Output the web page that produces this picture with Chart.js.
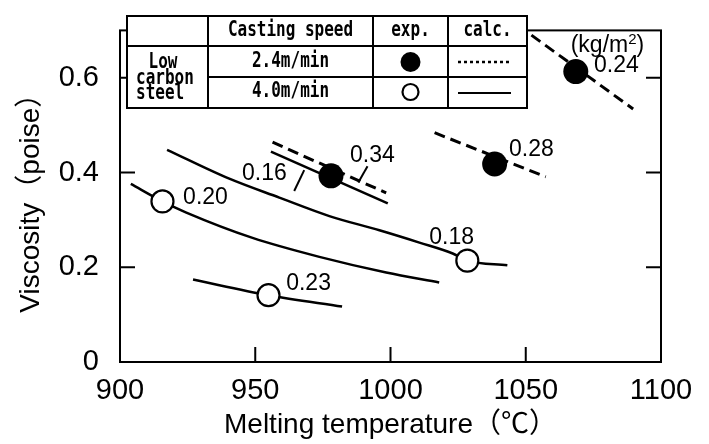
<!DOCTYPE html>
<html><head><meta charset="utf-8">
<script src="https://cdn.jsdelivr.net/npm/chart.js@4"></script>
<style>html,body{margin:0;padding:0;background:#fff}#wrap{width:709px;height:444px}</style>
</head><body><div id="wrap"><canvas id="c" width="709" height="444"></canvas></div>
<script>
// ---- tick labels ----
const xTicks = [900, 950, 1000, 1050, 1100];
const yTicks = [0, 0.2, 0.4, 0.6];
const xInnerTicks = [950, 1000, 1050];
const yInnerTicks = [0.2, 0.4, 0.6];

// ---- experimental points ----
const exp24T = [978, 1038.5, 1068.5];      // 2.4 m/min (filled)
const exp24V = [0.393, 0.418, 0.613];
const exp40T = [915.7, 1028.4, 954.9];     // 4.0 m/min (open)
const exp40V = [0.339, 0.214, 0.141];

// ---- calculated curves, 4.0 m/min (solid) ----
const c020T = [904, 915.7, 924.3, 949, 973.7, 998.4, 1018];
const c020V = [0.376, 0.339, 0.316, 0.262, 0.222, 0.189, 0.168];
const c018T = [917.4, 940.4, 958.9, 977.4, 995.9, 1010.7, 1023, 1028.4, 1043.2];
const c018V = [0.448, 0.387, 0.347, 0.308, 0.278, 0.252, 0.229, 0.214, 0.204];
const c023T = [927, 954.9, 982.1];
const c023V = [0.174, 0.141, 0.117];
const c016T = [955.8, 999];
const c016V = [0.444, 0.335];

// ---- calculated lines, 2.4 m/min (dashed) ----
const c034T = [956.4, 998.4];
const c034V = [0.464, 0.357];
const c028T = [1016.3, 1057.4];
const c028V = [0.484, 0.391];
const c024T = [1052.1, 1089.7];
const c024V = [0.690, 0.534];

// ---- leader lines ----
const lead016T = [964.4, 968.1];
const lead016V = [0.361, 0.405];
const lead034T = [991.5, 988.1];
const lead034V = [0.413, 0.379];

// ---- curve labels (powder consumption, kg/m2) ----
const labelText = ['0.34', '0.16', '0.20', '0.18', '0.23', '0.28', '0.24'];
const labelT = [993.3, 953.4, 931.6, 1022.6, 969.7, 1052.1, 1083.5];
const labelV = [0.435, 0.397, 0.347, 0.262, 0.165, 0.448, 0.625];
const unitParts = ['(kg/m', '2', ')'];
const unitT = 1080.2, unitV = 0.667;

// ---- legend table ----
const tableHeader = ['Casting speed', 'exp.', 'calc.'];
const tableSteel = ['Low', 'carbon', 'steel'];
const tableSpeeds = ['2.4m/min', '4.0m/min'];

const pts = (T, V) => T.map((t, i) => ({x: t, y: V[i]}));

function solid(T, V) {
  return {data: pts(T, V), showLine: true, borderColor: '#000', borderWidth: 2.5,
    pointRadius: 0, tension: 0.4, cubicInterpolationMode: 'monotone', order: 2};
}
function dashed(T, V) {
  return {data: pts(T, V), showLine: true, borderColor: '#000', borderWidth: 3,
    borderDash: [11, 6], pointRadius: 0, order: 2};
}
function leader(T, V) {
  return {data: pts(T, V), showLine: true, borderColor: '#000', borderWidth: 2,
    pointRadius: 0, order: 2};
}

function stretchText(ctx, t, x, y) {
  ctx.save(); ctx.translate(x, y); ctx.scale(1, 1.3); ctx.fillText(t, 0, 0); ctx.restore();
}

const decor = {
  id: 'decor',
  beforeDraw(chart) {
    const ctx = chart.ctx;
    ctx.save(); ctx.fillStyle = '#fff'; ctx.fillRect(0, 0, chart.width, chart.height); ctx.restore();
  },
  afterDatasetsDraw(chart) {
    const ctx = chart.ctx, xs = chart.scales.x, ys = chart.scales.y, a = chart.chartArea;
    ctx.save();
    ctx.strokeStyle = '#000'; ctx.lineWidth = 2;
    // frame
    ctx.strokeRect(a.left, a.top, a.right - a.left, a.bottom - a.top);
    // inward ticks
    ctx.beginPath();
    xInnerTicks.forEach(v => { const p = xs.getPixelForValue(v); ctx.moveTo(p, a.bottom); ctx.lineTo(p, a.bottom - 15); });
    yInnerTicks.forEach(v => { const p = ys.getPixelForValue(v);
      ctx.moveTo(a.left, p); ctx.lineTo(a.left + 15, p);
      ctx.moveTo(a.right, p); ctx.lineTo(a.right - 15, p); });
    ctx.stroke();
    // labels
    ctx.fillStyle = '#000';
    const lf = '23px "Liberation Sans", Arial, sans-serif';
    ctx.font = lf;
    ctx.textAlign = 'center'; ctx.textBaseline = 'middle';
    labelText.forEach((t, i) => ctx.fillText(t, xs.getPixelForValue(labelT[i]), ys.getPixelForValue(labelV[i])));
    // unit label with superscript
    {
      const sf = '15px "Liberation Sans", Arial, sans-serif';
      ctx.font = lf; const w0 = ctx.measureText(unitParts[0]).width, w2 = ctx.measureText(unitParts[2]).width;
      ctx.font = sf; const w1 = ctx.measureText(unitParts[1]).width;
      const cx = xs.getPixelForValue(unitT), cy = ys.getPixelForValue(unitV);
      let x0 = cx - (w0 + w1 + w2) / 2;
      ctx.textAlign = 'left';
      ctx.font = lf; ctx.fillText(unitParts[0], x0, cy);
      ctx.font = sf; ctx.fillText(unitParts[1], x0 + w0, cy - 6);
      ctx.font = lf; ctx.fillText(unitParts[2], x0 + w0 + w1, cy);
      ctx.textAlign = 'center';
    }
    // table
    const L = 127, R = 527, T = 16, H1 = 46, M = 77, B = 108, C1 = 208, C2 = 373, C3 = 448;
    ctx.fillStyle = '#fff'; ctx.fillRect(L, T, R - L, B - T);
    ctx.strokeRect(L, T, R - L, B - T);
    ctx.beginPath();
    ctx.moveTo(L, H1); ctx.lineTo(R, H1);
    ctx.moveTo(C1, M); ctx.lineTo(R, M);
    [C1, C2, C3].forEach(c => { ctx.moveTo(c, T); ctx.lineTo(c, B); });
    ctx.stroke();
    ctx.fillStyle = '#000';
    ctx.font = 'bold 16px "DejaVu Sans Mono", "Liberation Mono", monospace';
    stretchText(ctx, tableHeader[0], (C1 + C2) / 2, 31);
    stretchText(ctx, tableHeader[1], (C2 + C3) / 2, 31);
    stretchText(ctx, tableHeader[2], (C3 + R) / 2, 31);
    stretchText(ctx, tableSpeeds[0], (C1 + C2) / 2, 62);
    stretchText(ctx, tableSpeeds[1], (C1 + C2) / 2, 92);
    stretchText(ctx, tableSteel[0], 163, 63);
    ctx.textAlign = 'left';
    stretchText(ctx, tableSteel[1], 136, 79);
    stretchText(ctx, tableSteel[2], 136, 94);
    ctx.textAlign = 'center';
    const cx = (C2 + C3) / 2;
    ctx.beginPath(); ctx.arc(cx, 62, 10, 0, Math.PI * 2); ctx.fill();
    ctx.beginPath(); ctx.arc(cx, 92, 8, 0, Math.PI * 2); ctx.lineWidth = 2.2; ctx.stroke();
    ctx.lineWidth = 2.5; ctx.setLineDash([3, 3]);
    ctx.beginPath(); ctx.moveTo(458, 62); ctx.lineTo(511, 62); ctx.stroke();
    ctx.setLineDash([]); ctx.lineWidth = 2;
    ctx.beginPath(); ctx.moveTo(458, 93); ctx.lineTo(511, 93); ctx.stroke();
    ctx.restore();
  }
};

new Chart(document.getElementById('c'), {
  type: 'scatter',
  data: {
    datasets: [
      {data: pts(exp24T, exp24V), pointRadius: 12.5, pointBackgroundColor: '#000', pointBorderColor: '#000', pointBorderWidth: 0, order: 0},
      {data: pts(exp40T, exp40V), pointRadius: 11, pointBackgroundColor: '#fff', pointBorderColor: '#000', pointBorderWidth: 2.2, order: 0},
      solid(c020T, c020V), solid(c018T, c018V), solid(c023T, c023V), solid(c016T, c016V),
      dashed(c034T, c034V), dashed(c028T, c028V), dashed(c024T, c024V),
      leader(lead016T, lead016V), leader(lead034T, lead034V)
    ]
  },
  options: {
    responsive: false, animation: false, devicePixelRatio: 1,
    layout: {padding: {left: 0, right: 48, top: 9, bottom: 0}},
    plugins: {legend: {display: false}, tooltip: {enabled: false}},
    scales: {
      x: {
        type: 'linear', min: 900, max: 1100,
        afterBuildTicks: s => { s.ticks = xTicks.map(v => ({value: v})); },
        afterFit: s => { s.height = 82; },
        grid: {display: false}, border: {display: false},
        ticks: {color: '#000', padding: 4, callback: v => String(v),
          font: {size: 29, family: '"Liberation Sans", Arial, sans-serif'}},
        title: {display: true, text: 'Melting temperature（℃）', color: '#000', padding: {top: 0, bottom: 2},
          font: {size: 28, family: '"Liberation Sans", Arial, "Noto Sans CJK JP", sans-serif'}}
      },
      y: {
        type: 'linear', min: 0, max: 0.7,
        afterBuildTicks: s => { s.ticks = yTicks.map(v => ({value: v})); },
        afterFit: s => { s.width = 120; },
        grid: {display: false}, border: {display: false},
        ticks: {color: '#000', padding: 13, callback: v => v === 0 ? '0' : v.toFixed(1),
          font: {size: 29, family: '"Liberation Sans", Arial, sans-serif'}},
        title: {display: true, text: 'Viscosity（poise）', color: '#000', padding: {top: 14, bottom: 0},
          font: {size: 28, family: '"Liberation Sans", Arial, "Noto Sans CJK JP", sans-serif'}}
      }
    }
  },
  plugins: [decor]
});
</script></body></html>
